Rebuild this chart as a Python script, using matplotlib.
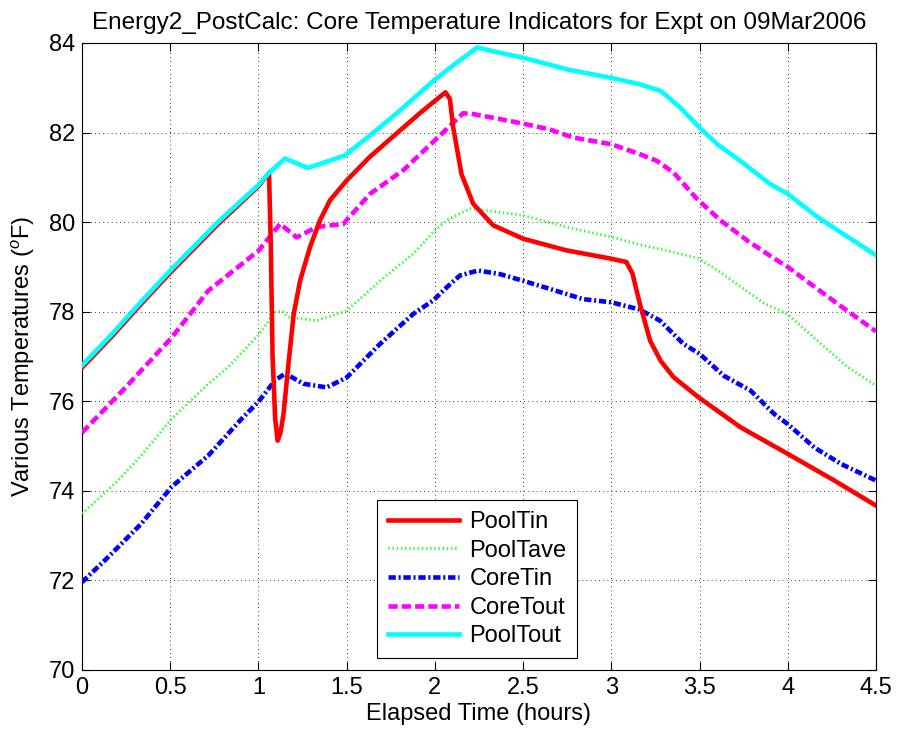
import numpy as np
import matplotlib
matplotlib.use('Agg')
import matplotlib.pyplot as plt

plt.rcParams['font.family'] = ['Liberation Sans', 'DejaVu Sans']
plt.rcParams['mathtext.fontset'] = 'custom'
plt.rcParams['mathtext.rm'] = 'Liberation Sans'
plt.rcParams['mathtext.it'] = 'Liberation Sans:italic'

# Elapsed time (hours) and temperatures (F) for each sensor
poolToutT = [0.0, 0.17, 0.33, 0.5, 0.77, 1.0, 1.057, 1.15, 1.28, 1.41, 1.49, 1.63, 1.79, 1.99, 2.12, 2.24,
             2.37, 2.5, 2.75, 3.0, 3.16, 3.28, 3.39, 3.49, 3.6, 3.73, 3.9, 4.0, 4.17, 4.34, 4.5]
poolTout = [76.8, 77.5, 78.2, 78.92, 80.0, 80.83, 81.09, 81.42, 81.21, 81.38, 81.49, 81.93, 82.45, 83.15, 83.55, 83.9,
            83.78, 83.67, 83.41, 83.22, 83.08, 82.93, 82.56, 82.15, 81.74, 81.37, 80.85, 80.63, 80.11, 79.67, 79.26]

poolTinT = [0.0, 0.17, 0.33, 0.5, 0.77, 1.0, 1.06, 1.07, 1.08, 1.095, 1.109, 1.125, 1.142, 1.17, 1.2, 1.236, 1.292,
            1.35, 1.406, 1.5, 1.632, 1.783, 1.92, 2.06, 2.085, 2.104, 2.151, 2.217, 2.33, 2.5, 2.745, 2.991, 3.085,
            3.12, 3.16, 3.22, 3.28, 3.352, 3.494, 3.732, 3.998, 4.264, 4.5]
poolTin = [76.75, 77.45, 78.15, 78.87, 79.95, 80.8, 81.1, 79.5, 77.0, 75.6, 75.12, 75.3, 75.71, 76.83, 77.95, 78.69, 79.44,
           80.05, 80.49, 80.93, 81.46, 81.98, 82.45, 82.9, 82.75, 82.11, 81.07, 80.41, 79.93, 79.63, 79.37, 79.19, 79.11,
           78.85, 78.2, 77.35, 76.9, 76.54, 76.09, 75.42, 74.83, 74.23, 73.67]

coreToutT = [0.0, 0.24, 0.508, 0.716, 1.0, 1.123, 1.217, 1.33, 1.481, 1.632, 1.821, 2.009, 2.16, 2.208, 2.33, 2.5,
             2.651, 2.783, 3.0, 3.16, 3.257, 3.352, 3.485, 3.618, 3.77, 3.922, 4.0, 4.15, 4.302, 4.5]
coreTout = [75.3, 76.28, 77.42, 78.47, 79.36, 79.96, 79.66, 79.89, 79.96, 80.63, 81.16, 81.86, 82.43, 82.42, 82.33, 82.2,
            82.07, 81.89, 81.74, 81.52, 81.37, 81.11, 80.52, 80.04, 79.59, 79.19, 79.0, 78.56, 78.12, 77.56]

poolTaveT = [0.0, 0.186, 0.337, 0.508, 0.716, 0.83, 1.0, 1.095, 1.132, 1.17, 1.33, 1.5, 1.689, 1.877, 2.0, 2.066,
             2.198, 2.368, 2.5, 2.745, 3.0, 3.16, 3.352, 3.494, 3.599, 3.732, 3.865, 4.0, 4.169, 4.34, 4.5]
poolTave = [73.49, 74.16, 74.79, 75.61, 76.39, 76.77, 77.48, 77.99, 78.02, 77.88, 77.8, 78.02, 78.69, 79.29, 79.81, 80.04,
            80.3, 80.22, 80.15, 79.89, 79.67, 79.5, 79.33, 79.19, 78.93, 78.56, 78.19, 77.94, 77.35, 76.76, 76.35]

coreTinT = [0.0, 0.148, 0.337, 0.508, 0.716, 0.905, 1.0, 1.095, 1.152, 1.256, 1.387, 1.5, 1.689, 1.877, 1.99, 2.066,
            2.142, 2.245, 2.368, 2.5, 2.651, 2.84, 3.0, 3.16, 3.276, 3.409, 3.5, 3.637, 3.789, 3.922, 4.0, 4.15,
            4.302, 4.5]
coreTin = [71.96, 72.52, 73.27, 74.09, 74.79, 75.61, 75.99, 76.47, 76.62, 76.39, 76.31, 76.53, 77.28, 77.95, 78.25, 78.54,
           78.81, 78.92, 78.84, 78.69, 78.51, 78.28, 78.21, 78.05, 77.8, 77.28, 77.06, 76.57, 76.24, 75.72, 75.49, 74.97,
           74.6, 74.23]

xTicks = [0, 0.5, 1, 1.5, 2, 2.5, 3, 3.5, 4, 4.5]
xTickLabels = ['0', '0.5', '1', '1.5', '2', '2.5', '3', '3.5', '4', '4.5']
yTicks = [70, 72, 74, 76, 78, 80, 82, 84]

fig = plt.figure(figsize=(8.97, 7.40), dpi=100)
fig.patch.set_facecolor('w')
ax = fig.add_axes([0.0914, 0.0946, 0.8852, 0.8473])

lw = 3.3
ax.plot(poolTinT, poolTin, color='red', linewidth=lw, label='PoolTin', zorder=4)
ax.plot(poolTaveT, poolTave, color='#22ff22', linewidth=2.0, linestyle=(0, (0.5, 1.0)), label='PoolTave', zorder=3)
ax.plot(coreTinT, coreTin, color='blue', linewidth=lw, linestyle=(0, (1.6, 0.6, 0.45, 0.6)), label='CoreTin', zorder=3)
ax.plot(coreToutT, coreTout, color='magenta', linewidth=lw, linestyle=(0, (2.0, 0.9)), label='CoreTout', zorder=3)
ax.plot(poolToutT, poolTout, color='cyan', linewidth=lw, label='PoolTout', zorder=5)

ax.set_xlim(0, 4.5)
ax.set_ylim(70, 84)
ax.set_xticks(xTicks)
ax.set_xticklabels(xTickLabels)
ax.set_yticks(yTicks)
ax.tick_params(direction='in', length=6, labelsize=17, pad=5, top=True, right=True)
ax.grid(True, color='k', linestyle=(0, (1, 4)), linewidth=0.6)
for s in ax.spines.values():
    s.set_color('k')
    s.set_linewidth(0.8)

ax.set_xlabel('Elapsed Time (hours)', fontsize=17, labelpad=3)
ax.set_ylabel(r'Various Temperatures ($^o$F)', fontsize=17, labelpad=8)
ax.set_title('Energy2_PostCalc: Core Temperature Indicators for Expt on 09Mar2006', fontsize=17.5, pad=10)

leg = ax.legend(loc='lower left', bbox_to_anchor=(0.372, 0.019), fontsize=17, handlelength=3.0,
                labelspacing=0.28, borderpad=0.45, handletextpad=0.45, borderaxespad=0,
                fancybox=False, framealpha=1)
leg.get_frame().set_edgecolor('k')
leg.get_frame().set_linewidth(0.8)

plt.savefig('out.png', dpi=100, facecolor='w')
